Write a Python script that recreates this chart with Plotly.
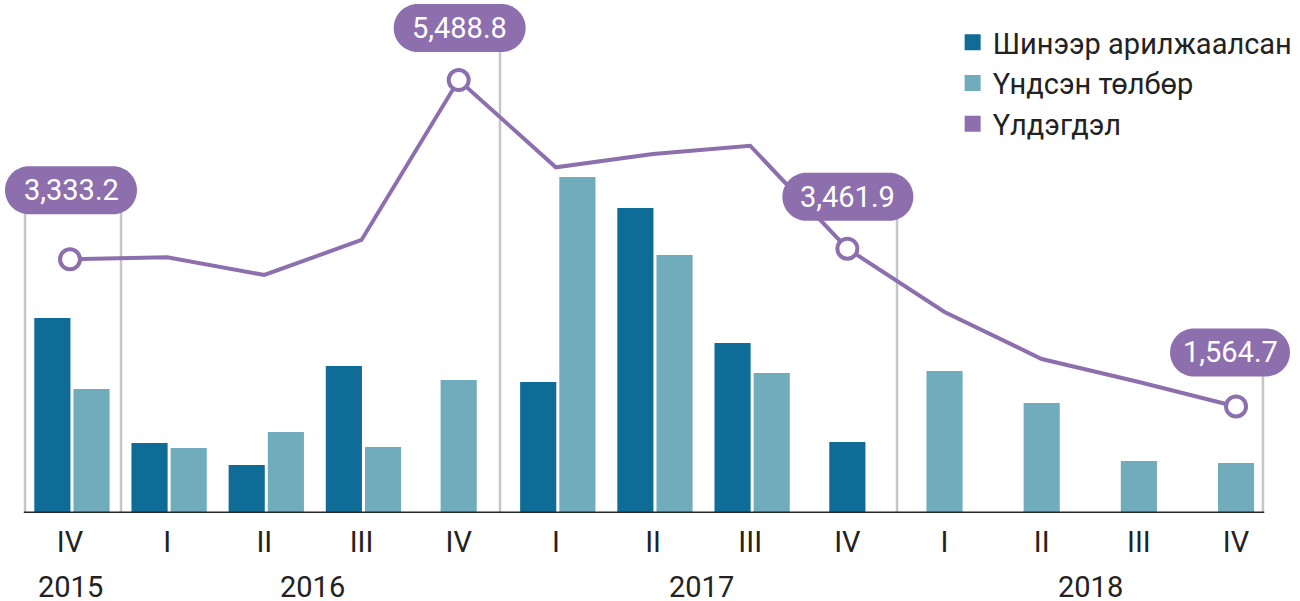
import plotly.graph_objects as go

quarters = ["IV", "I", "II", "III", "IV", "I", "II", "III", "IV", "I", "II", "III", "IV"]
years = ["2015", "2016", "2017", "2018"]
year_pos = [0, 2.5, 6.5, 10.5]

new_loans = [2344, 842, 577, 1767, None, 1575, 3667, 2044, 854, None, None, None, None]
principal = [1491, 781, 974, 793, 1599, 4039, 3102, 1683, None, 1707, 1322, 625, 601]
balance = [3333.2, 3358, 3145, 3566, 5488.8, 4440, 4600, 4699, 3461.9, 2700, 2135, 1859, 1564.7]
label_idx = [0, 4, 8, 12]

names = ["Шинээр арилжаалсан", "Үндсэн төлбөр", "Үлдэгдэл"]
C_DARK = "#0e6c97"
C_LIGHT = "#70acbc"
C_PURPLE = "#8d6fae"
FONT = "Roboto"
FS = 29

x = list(range(len(quarters)))
BW = 0.372
GAP = 0.031
SHIFT = 0.02


def offsets(own, other, first):
    out = []
    for a, b in zip(own, other):
        if b is None:
            out.append(-BW / 2)
        else:
            out.append((-BW - GAP / 2 if first else GAP / 2) + SHIFT)
    return out


fig = go.Figure()
fig.add_trace(go.Bar(x=x, y=new_loans, width=[BW] * len(x), offset=offsets(new_loans, principal, True),
                     marker=dict(color=C_DARK, line=dict(width=0)), showlegend=False, yaxis="y"))
fig.add_trace(go.Bar(x=x, y=principal, width=[BW] * len(x), offset=offsets(principal, new_loans, False),
                     marker=dict(color=C_LIGHT, line=dict(width=0)), showlegend=False, yaxis="y"))
fig.add_trace(go.Scatter(x=x, y=balance, mode="lines", line=dict(color=C_PURPLE, width=4),
                         showlegend=False, yaxis="y2", cliponaxis=False))
fig.add_trace(go.Scatter(x=[x[i] for i in label_idx], y=[balance[i] for i in label_idx], mode="markers",
                         marker=dict(size=20, color="white", line=dict(color=C_PURPLE, width=4)),
                         showlegend=False, yaxis="y2", cliponaxis=False))
# legend entries
for nm, col in zip(names, [C_DARK, C_LIGHT, C_PURPLE]):
    fig.add_trace(go.Scatter(x=[None], y=[None], mode="markers", name=nm, legendgroup=nm,
                             marker=dict(symbol="square", size=16, color=col)))

# plot area spans the full width; bottom of plot area at pixel 513
PX_PER_CAT = 97.17
X_RANGE = [-70 / PX_PER_CAT, (1300 - 70) / PX_PER_CAT]
Y_SCALE = 12.022  # primary units per pixel
Y_TOP = 513 * Y_SCALE
Y2_RANGE = [283.7, 6451]


def py(pix):
    return (513 - pix) * Y_SCALE


def pill_path(w, h, dx, dy):
    r = h / 2
    k = 0.5523 * r
    x0, x1 = -w / 2 + r + dx, w / 2 - r + dx
    L, R = -w / 2 + dx, w / 2 + dx
    t, b, m = dy + r, dy - r, dy
    return (f"M{x0},{b} L{x1},{b} C{x1 + k},{b} {R},{m - k} {R},{m} "
            f"C{R},{m + k} {x1 + k},{t} {x1},{t} L{x0},{t} "
            f"C{x0 - k},{t} {L},{m + k} {L},{m} C{L},{m - k} {x0 - k},{b} {x0},{b} Z")


shapes = []
seps = [(-0.463, 200), (0.525, 200), (4.425, 40), (8.511, 210), (12.277, 360)]
for sx, top in seps:
    shapes.append(dict(type="line", xref="x", yref="y", x0=sx, x1=sx, y0=0, y1=py(top),
                       line=dict(color="#c6c6c8", width=2.5), layer="below"))
shapes.append(dict(type="line", xref="x", yref="y", x0=-0.475, x1=12.29, y0=0, y1=0,
                   line=dict(color="#262626", width=3), layer="above"))

pill_geo = {0: (132, 48, 1, 69), 4: (132, 48, 1, 52), 8: (131, 48, 0.5, 52), 12: (120, 48, -6, 54)}
annotations = []
for i in label_idx:
    w, h, dx, dy = pill_geo[i]
    shapes.append(dict(type="path", xref="x", yref="y2", xsizemode="pixel", ysizemode="pixel",
                       xanchor=x[i], yanchor=balance[i], path=pill_path(w, h, dx, dy),
                       fillcolor=C_PURPLE, line=dict(width=0), layer="above"))
    annotations.append(dict(x=x[i], y=balance[i], xref="x", yref="y2", text=f"{balance[i]:,.1f}",
                            showarrow=False, xshift=dx, yshift=dy, xanchor="center", yanchor="middle",
                            font=dict(family=FONT, size=FS, color="white")))
for yr, p in zip(years, year_pos):
    annotations.append(dict(x=p, y=0, xref="x", yref="paper", text=yr, showarrow=False,
                            yshift=-74, yanchor="middle", font=dict(family=FONT, size=FS, color="#222222")))

fig.update_layout(
    width=1300, height=601,
    margin=dict(l=0, r=0, t=0, b=88),
    plot_bgcolor="white", paper_bgcolor="white",
    barmode="overlay",
    font=dict(family=FONT, size=FS, color="#222222"),
    xaxis=dict(range=X_RANGE, tickvals=x, ticktext=quarters, showgrid=False, zeroline=False,
               showline=False, ticks="", ticklabelstandoff=9, tickfont=dict(size=FS, color="#222222")),
    yaxis=dict(range=[0, Y_TOP], visible=False, showgrid=False, zeroline=False),
    yaxis2=dict(range=Y2_RANGE, overlaying="y", visible=False, showgrid=False, zeroline=False),
    legend=dict(x=0.7328, y=0.967, xanchor="left", yanchor="top", bgcolor="rgba(0,0,0,0)",
                font=dict(family=FONT, size=FS, color="#222222"), traceorder="grouped",
                tracegroupgap=0, itemsizing="trace"),
    shapes=shapes,
    annotations=annotations,
)

fig.write_html("out.html", config={"displayModeBar": False},
               post_script="document.body.style.margin='0';")
